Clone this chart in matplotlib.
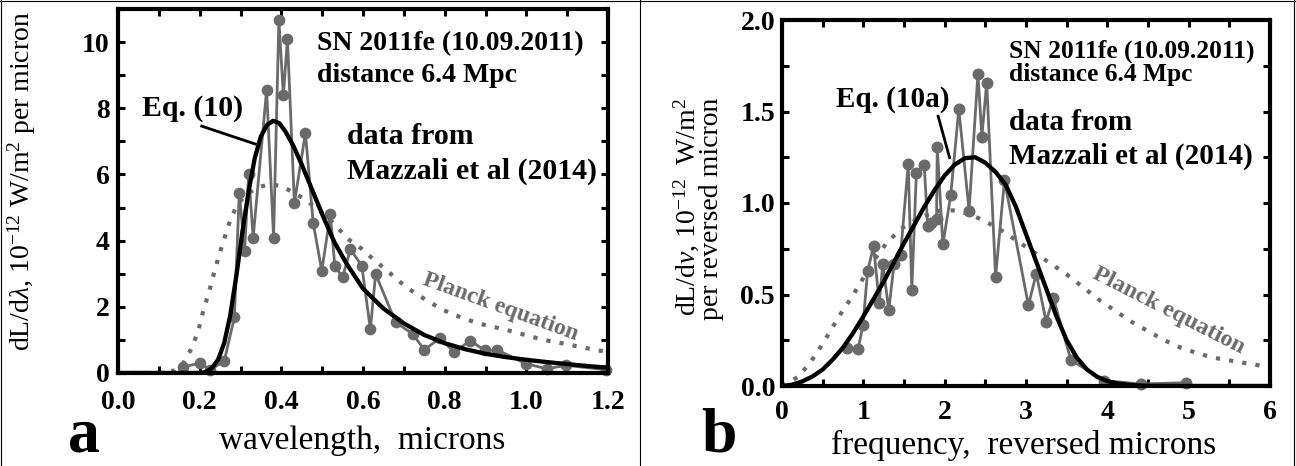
import matplotlib
matplotlib.use("Agg")
import matplotlib.pyplot as plt
from matplotlib.ticker import MultipleLocator, FormatStrFormatter
from matplotlib.lines import Line2D

plt.rcParams['font.family'] = ['Liberation Serif', 'DejaVu Serif']
plt.rcParams['mathtext.fontset'] = 'custom'
plt.rcParams['mathtext.rm'] = 'Liberation Serif'
plt.rcParams['mathtext.it'] = 'Liberation Serif:italic'
plt.rcParams['mathtext.bf'] = 'Liberation Serif:bold'

GRAY = '#6a6a6a'

# panel a: spectrum vs wavelength (microns)
lam_data = [0.159, 0.201, 0.225, 0.26, 0.285, 0.297, 0.31, 0.32, 0.331, 0.364, 0.381, 0.394,
            0.405, 0.415, 0.432, 0.459, 0.478, 0.499, 0.52, 0.531, 0.55, 0.569, 0.597, 0.618,
            0.631, 0.68, 0.722, 0.75, 0.789, 0.823, 0.863, 0.898, 0.928, 0.999, 1.05, 1.098, 1.194]
lum_data = [0.18, 0.30, 0.10, 0.35, 1.68, 5.44, 3.69, 6.0, 4.09, 8.55, 4.09, 10.66,
            8.4, 10.09, 5.14, 7.25, 4.54, 3.09, 4.79, 3.24, 2.89, 3.74, 3.24, 1.33,
            2.99, 1.53, 1.18, 0.70, 1.06, 0.63, 0.98, 0.68, 0.70, 0.28, 0.13, 0.23, 0.10]

lam_fit = [0.0, 0.2, 0.215, 0.23, 0.245, 0.26, 0.275, 0.29, 0.305, 0.32, 0.335, 0.35, 0.365,
           0.38, 0.395, 0.41, 0.43, 0.45, 0.475, 0.5, 0.53, 0.56, 0.6, 0.65, 0.7, 0.75, 0.8,
           0.85, 0.9, 0.95, 1.0, 1.05, 1.1, 1.15, 1.2]
lum_fit = [0, 0, 0.03, 0.15, 0.4, 0.9, 1.75, 2.95, 4.3, 5.5, 6.5, 7.15, 7.5,
           7.62, 7.55, 7.3, 6.85, 6.3, 5.55, 4.8, 3.95, 3.3, 2.55, 1.95, 1.5, 1.15, 0.9,
           0.72, 0.58, 0.48, 0.4, 0.33, 0.27, 0.21, 0.16]

lam_planck = [0.0, 0.1, 0.14, 0.16, 0.18, 0.197, 0.209, 0.224, 0.239, 0.255, 0.272, 0.289,
              0.31, 0.34, 0.37, 0.40, 0.43, 0.461, 0.503, 0.53, 0.562, 0.596, 0.629, 0.663,
              0.705, 0.755, 0.797, 0.84, 0.882, 0.952, 0.997, 1.042, 1.087, 1.131, 1.172, 1.2]
lum_planck = [0, 0, 0.08, 0.3, 0.74, 1.29, 1.89, 2.5, 3.2, 3.86, 4.51, 5.02,
              5.35, 5.6, 5.7, 5.65, 5.45, 5.22, 4.81, 4.5, 4.06, 3.76, 3.40, 3.05,
              2.6, 2.2, 1.9, 1.68, 1.5, 1.3, 1.15, 1.0, 0.9, 0.79, 0.69, 0.64]

# panel b: spectrum vs frequency (reversed microns)
nu_data = [0.804, 0.935, 0.996, 1.052, 1.126, 1.196, 1.239, 1.313, 1.378, 1.457, 1.552, 1.596,
           1.652, 1.748, 1.791, 1.835, 1.9, 1.909, 1.978, 2.074, 2.174, 2.3, 2.409, 2.457,
           2.517, 2.626, 2.735, 3.03, 3.126, 3.248, 3.335, 3.552, 3.965, 4.413, 4.965]
lnu_data = [0.205, 0.20, 0.332, 0.628, 0.763, 0.454, 0.668, 0.414, 0.668, 0.714, 1.213, 0.527,
            1.163, 1.21, 0.877, 0.89, 0.914, 1.304, 0.774, 1.041, 1.513, 0.959, 1.707, 1.362,
            1.658, 0.596, 1.123, 0.441, 0.614, 0.351, 0.483, 0.142, 0.029, 0.011, 0.018]

nu_fit = [0, 0.125, 0.25, 0.375, 0.5, 0.625, 0.75, 0.875, 1.0, 1.125, 1.25, 1.375, 1.5, 1.625,
          1.75, 1.875, 2.0, 2.125, 2.25, 2.375, 2.5, 2.625, 2.75, 2.875, 3.0, 3.125, 3.25,
          3.375, 3.5, 3.625, 3.75, 3.875, 4.0, 4.125, 4.25, 4.375, 4.5, 4.75, 5.0, 6.0]
lnu_fit = [0, 0.007, 0.025, 0.052, 0.09, 0.145, 0.21, 0.29, 0.38, 0.475, 0.57, 0.675, 0.78, 0.88,
           0.98, 1.07, 1.15, 1.21, 1.245, 1.25, 1.22, 1.17, 1.1, 0.98, 0.83, 0.68, 0.53,
           0.38, 0.25, 0.155, 0.09, 0.05, 0.027, 0.014, 0.007, 0.003, 0.001, 0, 0, 0]

nu_planck = [0, 0.2, 0.35, 0.5, 0.7, 0.85, 1.0, 1.15, 1.3, 1.5, 1.7, 1.9, 2.1, 2.3, 2.5, 2.7,
             2.9, 3.1, 3.3, 3.5, 3.7, 3.9, 4.1, 4.3, 4.5, 4.7, 4.9, 5.1, 5.3, 5.5, 5.7, 5.9]
lnu_planck = [0, 0.05, 0.13, 0.23, 0.38, 0.48, 0.59, 0.7, 0.79, 0.87, 0.92, 0.955, 0.96, 0.94, 0.9, 0.85,
              0.79, 0.73, 0.67, 0.61, 0.54, 0.47, 0.41, 0.35, 0.3, 0.25, 0.21, 0.18, 0.155, 0.14, 0.125, 0.11]

W, H = 1296, 466
fig = plt.figure(figsize=(W / 100, H / 100), dpi=100)


def box(x0, y0, x1, y1):
    return [x0 / W, 1 - y1 / H, (x1 - x0) / W, (y1 - y0) / H]


def px(x, y):
    return x / W, 1 - y / H


def style(ax, xmaj, xmin, ymaj, ymin, xfmt, yfmt, xpad, ypad):
    for s in ax.spines.values():
        s.set_linewidth(3)
    ax.xaxis.set_major_locator(MultipleLocator(xmaj))
    ax.xaxis.set_minor_locator(MultipleLocator(xmin))
    ax.yaxis.set_major_locator(MultipleLocator(ymaj))
    ax.yaxis.set_minor_locator(MultipleLocator(ymin))
    ax.xaxis.set_major_formatter(FormatStrFormatter(xfmt))
    ax.yaxis.set_major_formatter(FormatStrFormatter(yfmt))
    ax.tick_params(which='both', direction='in', top=True, right=True, length=5, width=2.2)
    ax.tick_params(axis='x', labelsize=20, pad=xpad)
    ax.tick_params(axis='y', labelsize=20, pad=ypad)
    for lbl in ax.get_xticklabels() + ax.get_yticklabels():
        lbl.set_fontweight('bold')


# ---- panel a ----
ax1 = fig.add_axes(box(118, 9, 608, 373))
ax1.plot(lam_planck, lum_planck, color=GRAY, lw=3, dashes=(1, 2.2), dash_capstyle='butt', zorder=1)
ax1.plot(lam_data, lum_data, color=GRAY, lw=2, marker='o', ms=7.4, zorder=2, clip_on=False)
ax1.plot(lam_fit, lum_fit, color='black', lw=3.1, zorder=3)
ax1.set_xlim(0, 1.2)
ax1.set_ylim(0, 11.0)
style(ax1, 0.2, 0.1, 2, 1, '%.1f', '%d', 12, 6)

ax1.text(0.487, 9.95, 'SN 2011fe (10.09.2011)', fontsize=20, fontweight='bold', va='center')
ax1.text(0.487, 9.0, 'distance 6.4 Mpc', fontsize=20, fontweight='bold', va='center')
ax1.text(0.058, 8.0, 'Eq. (10)', fontsize=21.5, fontweight='bold', va='center')
ax1.plot([0.205, 0.336], [7.46, 6.92], color='black', lw=2)
ax1.text(0.561, 7.14, 'data from', fontsize=21.5, fontweight='bold', va='center')
ax1.text(0.561, 6.08, 'Mazzali et al (2014)', fontsize=21.5, fontweight='bold', va='center')
ax1.text(0.938, 2.0, 'Planck equation', fontsize=17, fontweight='bold', color=GRAY,
         rotation=-20, ha='center', va='center', rotation_mode='anchor')

# ---- panel b ----
ax2 = fig.add_axes(box(782, 20, 1270, 386))
ax2.plot(nu_planck, lnu_planck, color=GRAY, lw=3, dashes=(1, 2.2), dash_capstyle='butt', zorder=1)
ax2.plot(nu_data, lnu_data, color=GRAY, lw=2, marker='o', ms=7.6, zorder=2, clip_on=False)
ax2.plot(nu_fit, lnu_fit, color='black', lw=3.1, zorder=3)
ax2.set_xlim(0, 6)
ax2.set_ylim(0, 2.0)
style(ax2, 1, 0.5, 0.5, 0.25, '%d', '%.1f', 10, 5)

ax2.text(2.79, 1.828, 'SN 2011fe (10.09.2011)', fontsize=18.4, fontweight='bold', va='center')
ax2.text(2.79, 1.70, 'distance 6.4 Mpc', fontsize=18.4, fontweight='bold', va='center')
ax2.text(0.66, 1.565, 'Eq. (10a)', fontsize=21, fontweight='bold', va='center')
ax2.plot([1.92, 2.06], [1.474, 1.248], color='black', lw=2)
ax2.text(2.79, 1.438, 'data from', fontsize=21, fontweight='bold', va='center')
ax2.text(2.79, 1.257, 'Mazzali et al (2014)', fontsize=21, fontweight='bold', va='center')
ax2.text(4.75, 0.41, 'Planck equation', fontsize=17.5, fontweight='bold', color=GRAY,
         rotation=-27, ha='center', va='center', rotation_mode='anchor')

# axis labels and panel letters
fig.text(*px(22, 181), r'dL/d$\lambda$, 10$^{-12}$ W/m$^{2}$ per micron', fontsize=20,
         rotation=90, ha='center', va='center')
fig.text(*px(686, 207), r'dL/d$\nu$, 10$^{-12}$  W/m$^{2}$', fontsize=20,
         rotation=90, ha='center', va='center')
fig.text(*px(711, 209), 'per reversed micron', fontsize=20,
         rotation=90, ha='center', va='center')
fig.text(*px(362, 441), 'wavelength,  microns', fontsize=24, ha='center', va='center')
fig.text(*px(1024, 445), 'frequency,  reversed microns', fontsize=24, ha='center', va='center')
fig.text(*px(84, 436), 'a', fontsize=46, fontweight='bold', ha='center', va='center')
fig.text(*px(719, 436), 'b', fontsize=46, fontweight='bold', ha='center', va='center')

# table-like border around the two panels
for xs, ys in [((1, 1), (0, H)), ((640, 640), (0, H)), ((1294, 1294), (0, H)), ((0, W), (1, 1))]:
    fig.add_artist(Line2D([x / W for x in xs], [1 - y / H for y in ys],
                          transform=fig.transFigure, color='black', lw=0.8))

fig.savefig('out.png', dpi=100)
